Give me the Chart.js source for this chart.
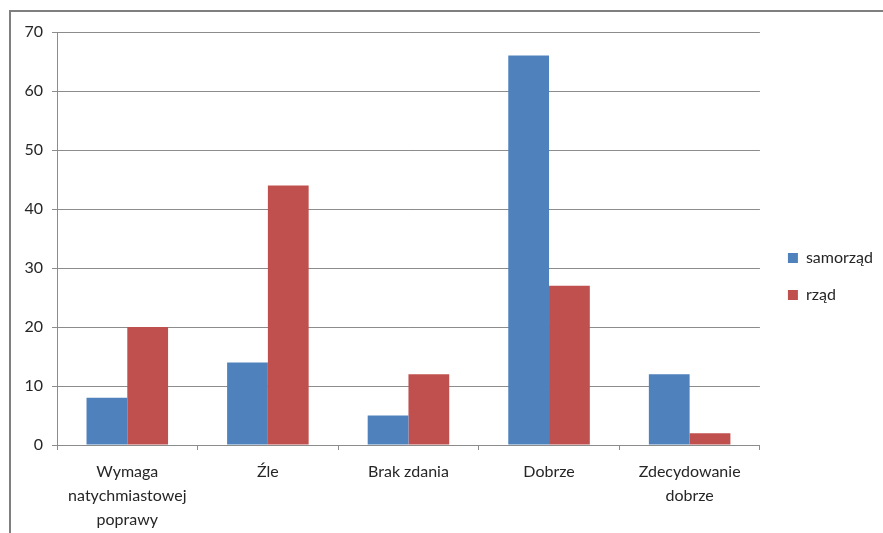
<!DOCTYPE html>
<html>
<head>
<meta charset="utf-8">
<script src="https://cdn.jsdelivr.net/npm/chart.js@4"></script>
<style>
  html, body { margin: 0; padding: 0; background: #fff; }
  #wrap { width: 883px; height: 533px; position: relative; }
</style>
</head>
<body>
<div id="wrap"><canvas id="chart" width="883" height="533"></canvas></div>
<script>
const categories = [
  ['Wymaga', 'natychmiastowej', 'poprawy'],
  'Źle',
  'Brak zdania',
  'Dobrze',
  ['Zdecydowanie', 'dobrze']
];
const seriesNames = ['samorząd', 'rząd'];
const samorzad = [8, 14, 5, 66, 12];
const rzad = [20, 44, 12, 27, 2];

const FONT = 'Lato, "Open Sans", sans-serif';

// ramka wykresu (lewa i górna krawędź widoczna)
const framePlugin = {
  id: 'frame',
  beforeDraw(chart) {
    const ctx = chart.ctx;
    ctx.save();
    ctx.strokeStyle = '#7f7f7f';
    ctx.lineWidth = 2;
    ctx.beginPath();
    ctx.moveTo(10, chart.height + 5);
    ctx.lineTo(10, 11);
    ctx.lineTo(chart.width + 5, 11);
    ctx.stroke();
    ctx.restore();
  },
  // przesunięcie legendy tak jak w oryginale
  afterLayout(chart) {
    const lg = chart.legend;
    if (!lg) return;
    lg.left += 7; lg.right += 7;
    lg.top -= 6; lg.bottom -= 6;
  }
};

new Chart(document.getElementById('chart'), {
  type: 'bar',
  plugins: [framePlugin],
  data: {
    labels: categories,
    datasets: [
      { label: seriesNames[0], data: samorzad, backgroundColor: '#4F81BD' },
      { label: seriesNames[1], data: rzad, backgroundColor: '#C0504D' }
    ]
  },
  options: {
    responsive: false,
    animation: false,
    layout: { padding: { left: 0, top: 32, right: 7, bottom: 0 } },
    datasets: {
      bar: { categoryPercentage: 0.58, barPercentage: 1.0 }
    },
    plugins: {
      legend: {
        position: 'right',
        labels: {
          boxWidth: 10,
          boxHeight: 10,
          padding: 21,
          color: '#262626',
          font: { family: FONT, size: 16 }
        }
      },
      tooltip: { enabled: false }
    },
    scales: {
      x: {
        afterFit(scale) { scale.height = 88; },
        grid: { drawOnChartArea: false, drawTicks: true, tickLength: 5, color: '#8c8c8c' },
        border: { color: '#8c8c8c' },
        ticks: { color: '#262626', padding: 10, font: { family: FONT, size: 16, lineHeight: 1.5 }, maxRotation: 0 }
      },
      y: {
        min: 0,
        max: 70,
        afterFit(scale) { scale.width = 57; },
        grid: { color: '#8c8c8c', tickLength: 5 },
        border: { color: '#8c8c8c' },
        ticks: { stepSize: 10, color: '#262626', padding: 9, font: { family: FONT, size: 16 } }
      }
    }
  }
});
</script>
</body>
</html>
